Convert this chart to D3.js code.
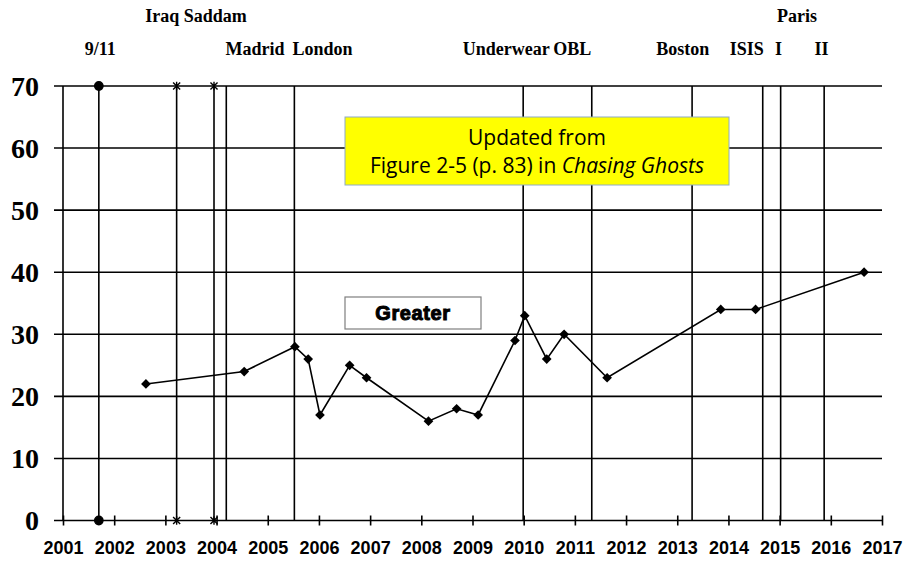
<!DOCTYPE html>
<html>
<head>
<meta charset="utf-8">
<script src="https://cdn.jsdelivr.net/npm/d3@7"></script>
<style>
  body { margin: 0; background: #fff; }
  svg { display: block; }
  .yLabel { font-family: "Liberation Serif", "Times New Roman", serif; font-weight: bold; font-size: 28px; }
  .xLabel { font-family: "Liberation Sans", Arial, sans-serif; font-weight: bold; font-size: 18px; }
  .eventLabel { font-family: "Liberation Serif", "Times New Roman", serif; font-weight: bold; font-size: 18px; }
</style>
</head>
<body>
<svg id="chart"></svg>
<script>
// poll values (percent saying "greater"), by fractional year
const pollDates = [2002.62, 2004.54, 2005.53, 2005.79, 2006.02, 2006.6, 2006.93, 2008.14, 2008.69,
  2009.11, 2009.83, 2010.02, 2010.45, 2010.79, 2011.63, 2013.85, 2014.53, 2016.65];
const pollValues = [22, 24, 28, 26, 17, 25, 23, 16, 18, 17, 29, 33, 26, 30, 23, 34, 34, 40];

// event lines
const eventNames = ['9/11', 'Iraq', 'Saddam', 'Madrid', 'London', 'Underwear', 'OBL', 'Boston', 'ISIS', 'Paris I', 'Paris II'];
const eventDates = [2001.70, 2003.22, 2003.95, 2004.19, 2005.52, 2009.99, 2011.33, 2013.29, 2014.67, 2015.02, 2015.87];
const eventMarkers = ['circle', 'star', 'star', '', '', '', '', '', '', '', ''];

// event labels above the chart (row 1 = top line)
const labelTexts = ['Iraq Saddam', 'Paris', '9/11', 'Madrid', 'London', 'Underwear', 'OBL', 'Boston', 'ISIS', 'I', 'II'];
const labelDates = [2003.60, 2015.34, 2001.73, 2004.75, 2006.07, 2009.66, 2010.95, 2013.11, 2014.36, 2014.98, 2015.82];
const labelRows = [1, 1, 2, 2, 2, 2, 2, 2, 2, 2, 2];

const yearTicks = d3.range(2001, 2018);
const valueTicks = [0, 10, 20, 30, 40, 50, 60, 70];

const config = {
  width: 904,
  height: 561,
  left: 63,
  right: 882,
  top: 86,
  bottom: 520.5
};

const svg = d3.select('#chart')
  .attr('width', config.width)
  .attr('height', config.height);

const xScale = d3.scaleLinear()
  .domain([2001, 2017])
  .range([config.left, config.right]);

const yScale = d3.scaleLinear()
  .domain([0, 70])
  .range([config.bottom, config.top]);

// horizontal grid lines (they stick out a little to the left like ticks)
svg.append('g').selectAll('line')
  .data(valueTicks)
  .join('line')
  .attr('x1', config.left - 9)
  .attr('x2', config.right)
  .attr('y1', d => yScale(d))
  .attr('y2', d => yScale(d))
  .attr('stroke', '#000')
  .attr('stroke-width', 1.6);

// y axis line
svg.append('line')
  .attr('x1', config.left).attr('x2', config.left)
  .attr('y1', yScale(70)).attr('y2', yScale(0))
  .attr('stroke', '#000')
  .attr('stroke-width', 1.6);

// y labels
svg.append('g').selectAll('text')
  .data(valueTicks)
  .join('text')
  .attr('class', 'yLabel')
  .attr('x', 39)
  .attr('y', d => yScale(d))
  .attr('dy', '0.35em')
  .attr('text-anchor', 'end')
  .text(d => d);

// x axis: crossing ticks + labels
const xAxis = d3.axisBottom(xScale)
  .tickValues(yearTicks)
  .tickFormat(d3.format('d'))
  .tickSize(5)
  .tickSizeOuter(0)
  .tickPadding(16);

const xAxisG = svg.append('g')
  .attr('transform', `translate(0,${config.bottom})`)
  .call(xAxis);
xAxisG.select('.domain').remove();
xAxisG.selectAll('.tick line')
  .attr('y1', -5)
  .attr('stroke-width', 1.6);
xAxisG.selectAll('.tick text')
  .attr('class', 'xLabel')
  .attr('fill', '#000');

// event lines
const events = eventNames.map((n, i) => ({ name: n, date: eventDates[i], marker: eventMarkers[i] }));

svg.append('g').selectAll('line')
  .data(events)
  .join('line')
  .attr('x1', d => xScale(d.date))
  .attr('x2', d => xScale(d.date))
  .attr('y1', yScale(70))
  .attr('y2', yScale(0))
  .attr('stroke', '#000')
  .attr('stroke-width', 1.6);

// star marker: an x with a vertical stroke, like the spreadsheet one
const symbolStar = {
  draw(context, size) {
    const r = Math.sqrt(size) / 2;
    context.moveTo(-r, -r); context.lineTo(r, r);
    context.moveTo(-r, r); context.lineTo(r, -r);
    context.moveTo(0, -r * 1.2); context.lineTo(0, r * 1.2);
  }
};

const markerData = [];
events.filter(d => d.marker).forEach(d => {
  markerData.push({ ...d, value: 0 });
  markerData.push({ ...d, value: 70 });
});

svg.append('g').selectAll('path')
  .data(markerData)
  .join('path')
  .attr('transform', d => `translate(${xScale(d.date)},${yScale(d.value)})`)
  .attr('d', d => d.marker === 'circle'
    ? d3.symbol(d3.symbolCircle, 55)()
    : d3.symbol(symbolStar, 50)())
  .attr('fill', d => d.marker === 'circle' ? '#000' : 'none')
  .attr('stroke', '#000')
  .attr('stroke-width', 1.4);

// event labels
const labels = labelTexts.map((t, i) => ({ text: t, date: labelDates[i], row: labelRows[i] }));
svg.append('g').selectAll('text')
  .data(labels)
  .join('text')
  .attr('class', 'eventLabel')
  .attr('x', d => xScale(d.date))
  .attr('y', d => d.row === 1 ? 22 : 55)
  .attr('text-anchor', 'middle')
  .text(d => d.text);

// poll line
const points = pollDates.map((d, i) => ({ date: d, value: pollValues[i] }));

const line = d3.line()
  .x(d => xScale(d.date))
  .y(d => yScale(d.value));

svg.append('path')
  .datum(points)
  .attr('d', line)
  .attr('fill', 'none')
  .attr('stroke', '#000')
  .attr('stroke-width', 1.6);

svg.append('g').selectAll('path')
  .data(points)
  .join('path')
  .attr('transform', d => `translate(${xScale(d.date)},${yScale(d.value)})`)
  .attr('d', d3.symbol(d3.symbolDiamond2, 60)())
  .attr('fill', '#000');

// yellow note box
const note = svg.append('g');
note.append('rect')
  .attr('x', 345).attr('y', 117)
  .attr('width', 384).attr('height', 68)
  .attr('fill', '#ffff00')
  .attr('stroke', '#8eaac8')
  .attr('stroke-width', 1);
const noteText = note.append('text')
  .attr('text-anchor', 'middle')
  .style('font-family', '"Open Sans", sans-serif')
  .style('font-size', '21px');
noteText.append('tspan')
  .attr('x', 537).attr('y', 145)
  .text('Updated from');
const line2 = noteText.append('tspan')
  .attr('x', 537).attr('y', 173);
line2.append('tspan').text('Figure 2-5 (p. 83) in ');
line2.append('tspan').style('font-style', 'italic').text('Chasing Ghosts');

// series label box
const tag = svg.append('g');
tag.append('rect')
  .attr('x', 345).attr('y', 297)
  .attr('width', 136).attr('height', 32)
  .attr('fill', '#fff')
  .attr('stroke', '#7f7f7f')
  .attr('stroke-width', 1.2);
tag.append('text')
  .attr('x', 413).attr('y', 320)
  .attr('text-anchor', 'middle')
  .style('font-family', '"Liberation Sans", Arial, sans-serif')
  .style('font-weight', 'bold')
  .style('font-size', '20px')
  .style('letter-spacing', '0.6px')
  .attr('stroke', '#000')
  .attr('stroke-width', 1)
  .text('Greater');
</script>
</body>
</html>
